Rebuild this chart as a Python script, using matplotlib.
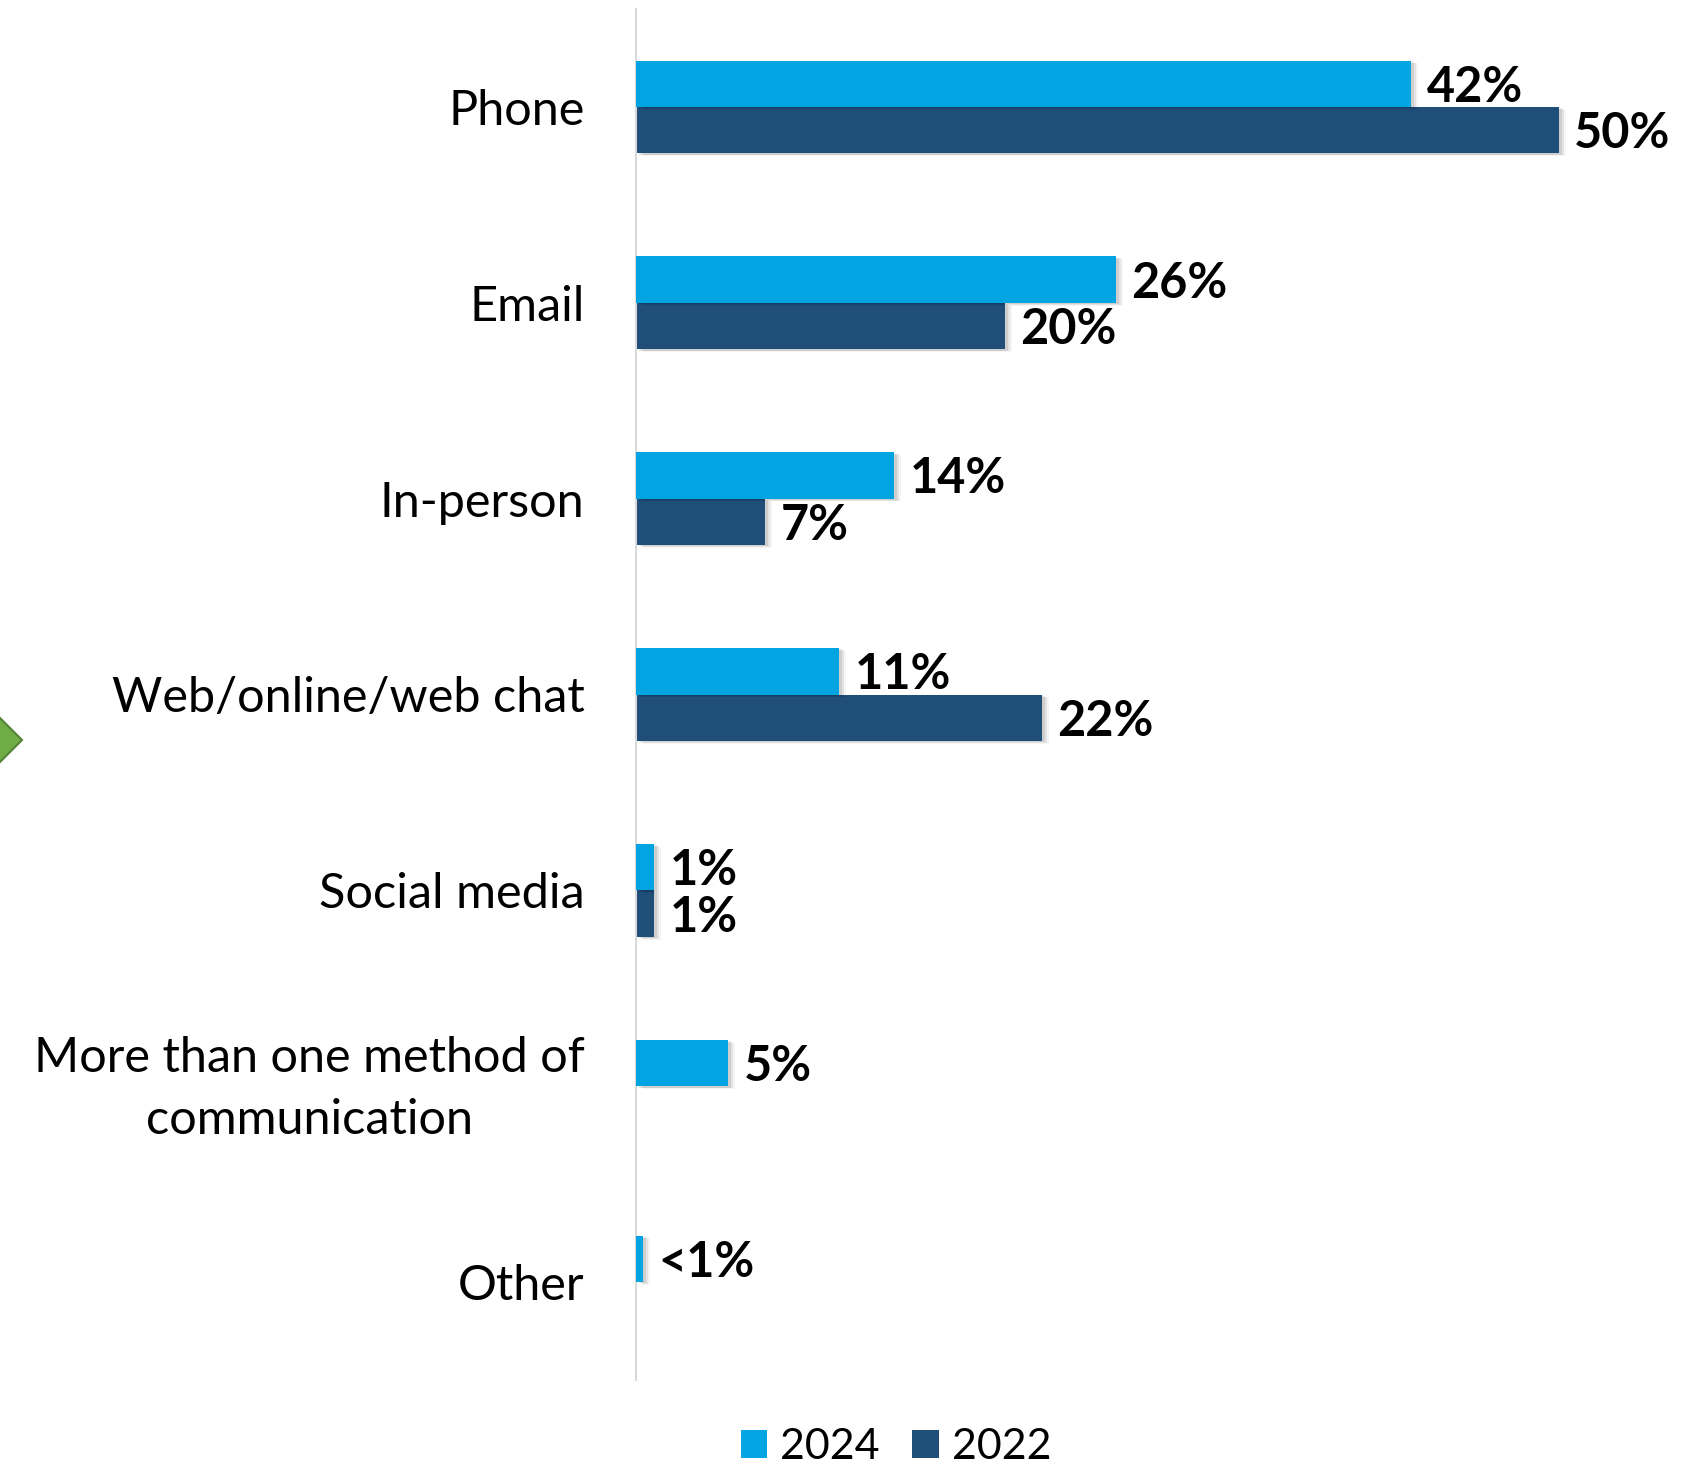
import numpy as np
import matplotlib
matplotlib.use("Agg")
import matplotlib.pyplot as plt
import matplotlib.patheffects as pe
import matplotlib.transforms as mtransforms
from matplotlib.patches import Polygon

# Preferred method of communication, share of respondents (%)
categories = ["Phone", "Email", "In-person", "Web/online/web chat",
              "Social media", "More than one method of\ncommunication", "Other"]
values_2024 = [42, 26, 14, 11, 1, 5, 0.4]
values_2022 = [50, 20, 7, 22, 1, None, None]
labels_2024 = ["42%", "26%", "14%", "11%", "1%", "5%", "<1%"]
labels_2022 = ["50%", "20%", "7%", "22%", "1%", None, None]
series_names = ["2024", "2022"]

COLOR_2024 = "#02A4E1"
COLOR_2022 = "#1F4E79"

W, H, DPI = 1686, 1473, 100
fig = plt.figure(figsize=(W / DPI, H / DPI), dpi=DPI)
fig.patch.set_facecolor("white")

FONT = "Lato"

ax_left, ax_right = 636 / W, 1.0
ax_bottom, ax_top = 1 - 1380 / H, 1 - 9 / H
ax = fig.add_axes([ax_left, ax_bottom, ax_right - ax_left, ax_top - ax_bottom])

n = len(categories)
y = np.arange(n)
bar_h = 0.237

shadow = [
    pe.SimplePatchShadow(offset=(5, -2), shadow_rgbFace="#000000", alpha=0.04),
    pe.SimplePatchShadow(offset=(3.5, -1.5), shadow_rgbFace="#000000", alpha=0.07),
    pe.SimplePatchShadow(offset=(2, -1), shadow_rgbFace="#000000", alpha=0.09),
    pe.Normal(),
]

v24 = np.array(values_2024, dtype=float)
v22 = np.array([np.nan if v is None else v for v in values_2022], dtype=float)

bars24 = ax.barh(y - bar_h / 2, v24, height=bar_h, color=COLOR_2024,
                 label=series_names[0], zorder=3)
mask22 = ~np.isnan(v22)
bars22 = ax.barh(y[mask22] + bar_h / 2, v22[mask22], height=bar_h,
                 color=COLOR_2022, label=series_names[1], zorder=2)
for b in list(bars24) + list(bars22):
    b.set_path_effects(shadow)

ax.set_xlim(0, (W - 636) / ((1559 - 636) / 50))
ax.set_ylim(n - 0.5, -0.5)

label_kw = dict(fontfamily=FONT, fontweight="bold", fontsize=35, color="black",
                va="center", ha="left")
for yi, v, lab in zip(y, v24, labels_2024):
    ax.annotate(lab, (v, yi - bar_h / 2), xytext=(11, -2.5),
                textcoords="offset points", zorder=5, **label_kw)
for yi, v, lab in zip(y, v22, labels_2022):
    if lab is None:
        continue
    ax.annotate(lab, (v, yi + bar_h / 2), xytext=(11, -2.5),
                textcoords="offset points", zorder=5, **label_kw)

ax.set_yticks(y)
ax.set_yticklabels(categories, fontfamily=FONT, fontsize=35, ha="right",
                   multialignment="center", linespacing=1.5)
ax.tick_params(axis="y", length=0, pad=37)
ax.set_xticks([])
for s in ["top", "right", "bottom"]:
    ax.spines[s].set_visible(False)
ax.spines["left"].set_color("#D9D9D9")
ax.spines["left"].set_linewidth(1.5)

# Nudge the two-line category label up so it sits centred on its row
for t in ax.get_yticklabels():
    if "\n" in t.get_text():
        t.set_transform(t.get_transform() + mtransforms.ScaledTranslation(
            0, 7 / 72, fig.dpi_scale_trans))

leg = fig.legend(handles=[bars24, bars22], labels=series_names,
                 loc="center", bbox_to_anchor=(896 / W, 1 - 1447 / H),
                 ncol=2, frameon=False, handlelength=0.62, handleheight=0.62,
                 handletextpad=0.3, columnspacing=0.75,
                 prop=dict(family=FONT, size=31))
for h in leg.legend_handles:
    h.set_path_effects([])

# Green arrow marker at the left edge
arrow = Polygon([(-24 / W, 1 - 740 / H), (-1 / W, 1 - 717 / H),
                 (22 / W, 1 - 740 / H), (-1 / W, 1 - 763 / H)],
                closed=True, transform=fig.transFigure,
                facecolor="#70AD47", edgecolor="#548235", linewidth=1.5)
fig.add_artist(arrow)

fig.savefig("out.png", dpi=DPI, facecolor="white")
